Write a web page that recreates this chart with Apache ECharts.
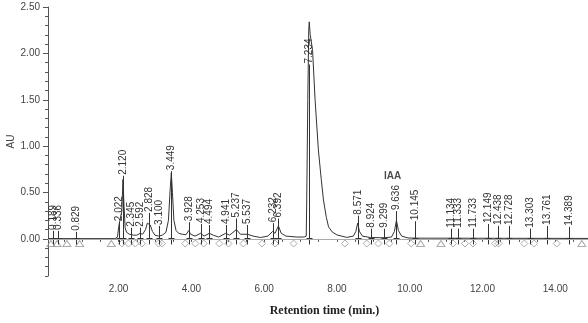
<!DOCTYPE html>
<html>
<head>
<meta charset="utf-8">
<script src="https://cdn.jsdelivr.net/npm/echarts@6/dist/echarts.min.js"></script>
<style>html,body{margin:0;padding:0;background:#fff}#c{width:588px;height:323px}</style>
</head>
<body>
<div id="c"></div>
<script>
// Chromatogram trace: [retention time (min), AU]
const trace = [
  [0.06,0.003],[1.90,0.003],[1.97,0.02],[2.00,0.12],[2.03,0.19],[2.06,0.17],[2.09,0.30],[2.12,0.64],
  [2.15,0.35],[2.18,0.12],[2.22,0.07],[2.30,0.05],[2.345,0.07],[2.42,0.04],[2.50,0.04],[2.592,0.06],
  [2.66,0.05],[2.74,0.10],[2.79,0.17],[2.828,0.19],[2.87,0.15],[2.93,0.08],[3.00,0.04],[3.10,0.03],
  [3.20,0.04],[3.30,0.07],[3.37,0.20],[3.42,0.55],[3.449,0.71],[3.48,0.50],[3.52,0.20],[3.58,0.09],
  [3.65,0.06],[3.75,0.05],[3.85,0.045],[3.928,0.09],[3.98,0.05],[4.10,0.03],[4.253,0.06],[4.35,0.03],
  [4.494,0.06],[4.60,0.04],[4.75,0.02],[4.941,0.06],[5.05,0.04],[5.237,0.10],[5.35,0.05],[5.537,0.05],
  [5.70,0.03],[5.90,0.015],[6.10,0.03],[6.232,0.08],[6.30,0.06],[6.392,0.14],[6.47,0.06],[6.60,0.03],
  [6.90,0.02],[7.10,0.02],[7.157,0.03],[7.17,0.42],[7.20,1.50],[7.225,2.25],[7.24,2.34],[7.266,2.20],
  [7.33,2.04],[7.40,1.50],[7.49,0.96],[7.57,0.64],[7.63,0.42],[7.71,0.23],[7.77,0.13],[7.87,0.075],
  [8.00,0.043],[8.27,0.016],[8.45,0.03],[8.52,0.08],[8.571,0.17],[8.62,0.08],[8.70,0.03],[8.924,0.015],
  [9.299,0.012],[9.50,0.02],[9.58,0.08],[9.636,0.20],[9.69,0.09],[9.78,0.03],[9.95,0.01],[10.145,0.008],
  [14.90,0.005]
];
// Peak retention-time labels and the AU level where each label starts
const peakTimes = [0.189,0.336,0.829,2.022,2.120,2.345,2.592,2.828,3.100,3.449,3.928,4.253,4.494,4.941,
  5.237,5.537,6.232,6.392,7.234,8.571,8.924,9.299,9.636,10.145,11.134,11.333,11.733,12.149,12.438,12.728,
  13.303,13.761,14.389];
const peakLabels = ['0.189','0.336','0.829','2.022','2.120','2.345','2.592','2.828','3.100','3.449','3.928',
  '4.253','4.494','4.941','5.237','5.537','6.232','6.392','7.234','8.571','8.924','9.299','9.636','10.145',
  '11.134','11.333','11.733','12.149','12.438','12.728','13.303','13.761','14.389'];
const labelStart = [0.086,0.086,0.076,0.18,0.68,0.12,0.12,0.28,0.14,0.73,0.18,0.16,0.15,0.15,0.22,0.15,
  0.17,0.22,1.88,0.25,0.11,0.11,0.30,0.19,0.11,0.11,0.11,0.16,0.14,0.14,0.11,0.14,0.13];
// Integration event markers
const triangleTimes = [0.14,0.31,0.58,0.93,1.80,10.30,10.86,14.73];
const diamondTimes = [2.09,2.27,2.46,2.64,3.10,3.19,3.83,4.11,4.34,4.77,5.02,5.43,5.94,6.30,6.81,8.22,
  8.82,9.14,9.44,10.04,11.19,11.52,11.74,12.35,12.44,13.15,13.42,14.04];
const markerLevel = -0.05;
// Axis ticks
const xTicks = [0.5,1,1.5,2,2.5,3,3.5,4,4.5,5,5.5,6,6.5,7,7.5,8,8.5,9,9.5,10,10.5,11,11.5,12,12.5,13,13.5,14,14.5];
const xLabels = [2,4,6,8,10,12,14];
const yMajor = [0,0.5,1,1.5,2,2.5];
const yMinor = [-0.4,-0.3,-0.2,-0.1,0,0.1,0.2,0.3,0.4,0.5,0.6,0.7,0.8,0.9,1,1.1,1.2,1.3,1.4,1.5,1.6,1.7,1.8,1.9,2,2.1,2.2,2.3,2.4,2.5];
const annotation = {t: 9.53, v: 0.68, text: 'IAA'};

const FONT = '"Liberation Sans", Arial, sans-serif';
const chart = echarts.init(document.getElementById('c'), null, {renderer: 'canvas'});
const axisColor = '#555';
const option = {
  animation: false,
  grid: {left: 48, right: 0, top: 7, bottom: 47, containLabel: false, outerBoundsMode: 'none'},
  xAxis: [{
    type: 'value', min: 0.06, max: 14.9,
    name: 'Retention time (min.)', nameLocation: 'middle', nameGap: 29, nameMoveOverlap: false,
    nameTextStyle: {fontFamily: '"Liberation Serif", "Times New Roman", serif', fontWeight: 'bold', fontSize: 12, color: '#222', padding: [0,0,0,13]},
    axisLine: {show: true, lineStyle: {color: axisColor, width: 1}},
    axisTick: {show: true, length: 3, customValues: xTicks, lineStyle: {color: axisColor}},
    axisLabel: {customValues: xLabels, margin: 8, fontSize: 10, fontFamily: FONT, color: '#444', formatter: v => v.toFixed(2)},
    splitLine: {show: false}
  }, {
    type: 'value', position: 'top', min: 0.06, max: 14.9,
    axisLine: {show: true, lineStyle: {color: '#888', width: 1}},
    axisTick: {show: false}, axisLabel: {show: false}, splitLine: {show: false}
  }],
  yAxis: [{
    type: 'value', min: -0.4, max: 2.5,
    name: 'AU', nameLocation: 'middle', nameGap: 32, nameRotate: 90, nameMoveOverlap: false,
    nameTextStyle: {fontSize: 10, fontFamily: FONT, color: '#444'},
    axisLine: {show: true, lineStyle: {color: axisColor, width: 1}},
    axisTick: {show: true, length: 5, customValues: yMajor, lineStyle: {color: axisColor}},
    axisLabel: {customValues: yMajor, margin: 8, fontSize: 10, fontFamily: FONT, color: '#444', formatter: v => v.toFixed(2)},
    splitLine: {show: false}
  }, {
    type: 'value', min: -0.4, max: 2.5, position: 'left', offset: 0,
    axisLine: {show: false},
    axisTick: {show: true, length: 3, customValues: yMinor, lineStyle: {color: axisColor}},
    axisLabel: {show: false}, splitLine: {show: false}
  }],
  series: [
    {
      type: 'line', data: trace, showSymbol: false, symbol: 'none',
      lineStyle: {color: '#333', width: 1}, z: 3,
      markLine: {silent: true, symbol: 'none', label: {show: false},
        lineStyle: {color: '#aaa', width: 1, type: 'solid'}, data: [{yAxis: 0}]}
    },
    {
      type: 'scatter', symbol: 'triangle', symbolSize: [8,6],
      data: triangleTimes.map(t => [t, markerLevel]),
      itemStyle: {color: 'rgba(0,0,0,0)', borderColor: '#999', borderWidth: 1}, z: 2
    },
    {
      type: 'scatter', symbol: 'diamond', symbolSize: [7,7],
      data: diamondTimes.map(t => [t, markerLevel]),
      itemStyle: {color: 'rgba(0,0,0,0)', borderColor: '#999', borderWidth: 1}, z: 2
    },
    {
      type: 'custom', z: 4,
      data: peakTimes.map((t, i) => [t, labelStart[i]]),
      renderItem: function (params, api) {
        const t = api.value(0), vs = api.value(1);
        const p0 = api.coord([t, -0.06]);
        const p1 = api.coord([t, vs]);
        const p2 = api.coord([t, 0.012]);
        const x = Math.round(p0[0]) + 0.5;
        return {
          type: 'group',
          children: [
            {type: 'line', shape: {x1: x, y1: p0[1], x2: x, y2: p1[1]}, style: {stroke: '#333', lineWidth: 1}},
            {type: 'line', shape: {x1: x - 3, y1: Math.round(p2[1]) + 0.5, x2: x + 3, y2: Math.round(p2[1]) + 0.5}, style: {stroke: '#333', lineWidth: 1}},
            {type: 'text', x: x, y: p1[1] - 1, rotation: Math.PI / 2,
              style: {text: peakLabels[params.dataIndex], fill: '#333', fontSize: 10, fontFamily: FONT, align: 'left', verticalAlign: 'middle'}}
          ]
        };
      }
    },
    {
      type: 'scatter', symbolSize: 0, data: [[annotation.t, annotation.v]],
      label: {show: true, position: 'inside', formatter: annotation.text, fontSize: 10, fontWeight: 'bold', fontFamily: FONT, color: '#222'}
    }
  ]
};
chart.setOption(option);
</script>
</body>
</html>
